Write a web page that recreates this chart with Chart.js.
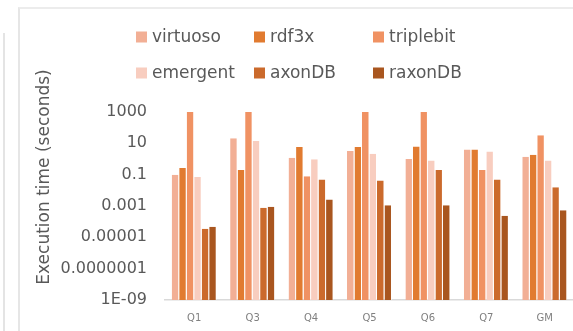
<!DOCTYPE html>
<html>
<head>
<meta charset="utf-8">
<title>Execution time</title>
<script src="https://cdn.jsdelivr.net/npm/chart.js@4.4.1/dist/chart.umd.min.js"></script>
<style>
  html, body { margin: 0; padding: 0; background: #ffffff; overflow: hidden; }
  body { width: 573px; height: 331px; position: relative; }
  #frame { position: absolute; left: 18px; top: 7px; width: 620px; height: 400px;
           border-left: 2px solid #e6e6e6; border-top: 2px solid #ececec; }
  #prev { position: absolute; left: 3px; top: 33px; width: 2px; height: 320px; background: #e4e4e4; }
  #c { position: absolute; left: 0; top: 0; }
</style>
</head>
<body>
<div id="prev"></div>
<div id="frame"></div>
<canvas id="c" width="575" height="331"></canvas>
<script>
// Queries and the geometric mean (GM)
const categories = ['Q1', 'Q3', 'Q4', 'Q5', 'Q6', 'Q7', 'GM'];

// Execution time per engine, in seconds
const virtuoso  = [0.1,    21,     1.2,    3.2,    1.0,    4.1,    1.4];
const rdf3x     = [0.27,   0.2,    5.8,    5.8,    6.2,    4.0,    1.9];
const triplebit = [1000,   1000,   0.08,   1000,   1000,   0.2,    33];
const emergent  = [0.07,   14,     0.95,   2.2,    0.8,    3.0,    0.8];
const axonDB    = [3.5e-5, 7.6e-4, 0.05,   0.043,  0.2,    0.05,   0.016];
const raxonDB   = [4.8e-5, 9.0e-4, 0.0026, 0.0011, 0.0011, 2.4e-4, 5.3e-4];

const seriesNames  = ['virtuoso', 'rdf3x', 'triplebit', 'emergent', 'axonDB', 'raxonDB'];
const seriesValues = [virtuoso, rdf3x, triplebit, emergent, axonDB, raxonDB];
const seriesColors = ['#f2af95', '#e17b30', '#f09263', '#f8cdbf', '#cb6a2c', '#a9561f'];

// Log-axis ticks, every two decades
const tickValues = [1e-9, 1e-7, 1e-5, 1e-3, 1e-1, 10, 1000];
const tickLabels = ['1E-09', '0.0000001', '0.00001', '0.001', '0.1', '10', '1000'];

const axisTitle = 'Execution time (seconds)';
const textColor = '#595959';
const fontFamily = "'DejaVu Sans', sans-serif";

// Legend laid out as a 3-column grid above the plot, plus the rotated y title
const decorations = {
  id: 'decorations',
  afterDraw(chart) {
    const ctx = chart.ctx;
    ctx.save();
    const colX = [136, 254, 373];
    const rowY = [37, 73];
    ctx.font = '17px ' + fontFamily;
    ctx.textBaseline = 'middle';
    ctx.textAlign = 'left';
    seriesNames.forEach((name, i) => {
      const x = colX[i % 3];
      const y = rowY[Math.floor(i / 3)];
      ctx.fillStyle = seriesColors[i];
      ctx.fillRect(x, y - 5.5, 11, 11);
      ctx.fillStyle = textColor;
      ctx.fillText(name, x + 16, y + 1);
    });
    ctx.translate(45, 177);
    ctx.rotate(-Math.PI / 2);
    ctx.textAlign = 'center';
    ctx.font = '17px ' + fontFamily;
    ctx.fillText(axisTitle, 0, 0);
    ctx.restore();
  }
};

new Chart(document.getElementById('c'), {
  type: 'bar',
  data: {
    labels: categories,
    datasets: seriesNames.map((name, i) => ({
      label: name,
      data: seriesValues[i],
      backgroundColor: seriesColors[i],
      borderColor: 'rgba(255,255,255,0.5)',
      borderWidth: { top: 0, left: 0, right: 1, bottom: 0 },
      borderSkipped: false,
      categoryPercentage: 0.77,
      barPercentage: 1.0
    }))
  },
  options: {
    responsive: false,
    animation: false,
    devicePixelRatio: 1,
    layout: { padding: { top: 112, right: 1, bottom: 0, left: 0 } },
    plugins: {
      legend: { display: false },
      tooltip: { enabled: false }
    },
    scales: {
      x: {
        grid: { display: false, drawTicks: false },
        border: { display: true, color: '#d9d9d9', width: 1.5 },
        ticks: { color: '#808080', font: { family: fontFamily, size: 10 }, padding: 12 },
        afterFit(scale) { scale.height = 31; }
      },
      y: {
        type: 'logarithmic',
        min: 1e-9,
        max: 1000,
        grid: { display: false, drawTicks: false },
        border: { display: false },
        ticks: {
          color: textColor,
          font: { family: fontFamily, size: 16 },
          padding: 18,
          callback: (value) => {
            const idx = tickValues.findIndex(v => Math.abs(Math.log10(v) - Math.log10(value)) < 1e-6);
            return idx >= 0 ? tickLabels[idx] : '';
          }
        },
        afterBuildTicks(scale) { scale.ticks = tickValues.map(v => ({ value: v })); },
        afterFit(scale) { scale.width = 165; }
      }
    }
  },
  plugins: [decorations]
});
</script>
</body>
</html>
